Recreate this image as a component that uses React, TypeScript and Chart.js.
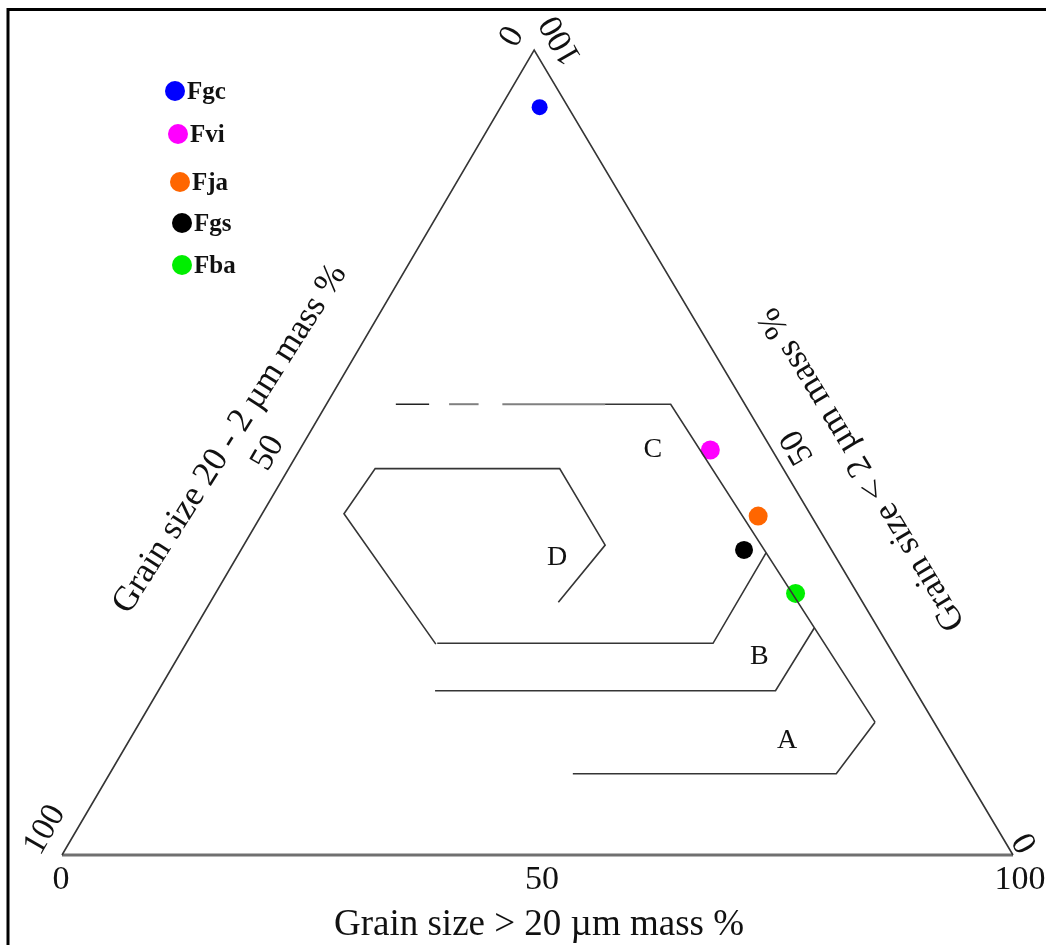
import React, { useEffect, useRef } from "react";
import { Chart, registerables } from "chart.js";
Chart.register(...registerables);

// ---------- data (ternary: sand = >20 µm, silt = 20-2 µm, clay = <2 µm) ----------
const sampleNames = ["Fgc", "Fvi", "Fja", "Fgs", "Fba"];
const sampleColors = ["#0000ff", "#ff00ff", "#ff6600", "#000000", "#00ee00"];
const sandPct = [4.1, 43.2, 52.3, 52.9, 61.0];
const siltPct = [3.0, 6.5, 5.6, 9.2, 6.5];
const clayPct = [92.9, 50.3, 42.1, 37.9, 32.5];

// boundaries as [sand, clay] pairs
const triangleSides: [number, number][] = [[0, 0], [0, 100], [100, 0]];
const triangleBase: [number, number][] = [[0, 0], [100, 0]];
const cTopDash1: [number, number][] = [[7.3, 56.0], [10.8, 56.0]];
const cTopDash2: [number, number][] = [[12.9, 56.0], [16.0, 56.0]];
const cTopGray: [number, number][] = [[18.5, 56.0], [29.3, 56.0]];
const cBoundary: [number, number][] = [[29.3, 56.0], [36.2, 56.0], [77.3, 16.5]];
const bUpper: [number, number][] = [[55.4, 37.5], [55.4, 26.3], [26.4, 26.3]];
const bLower: [number, number][] = [[65.1, 28.2], [64.9, 20.4], [29.1, 20.4]];
const aLower: [number, number][] = [[77.3, 16.5], [76.4, 10.1], [48.7, 10.1]];
const dBoundary: [number, number][] = [[26.3, 26.2], [8.6, 42.4], [9.1, 48.0], [28.5, 48.0], [38.0, 38.5], [36.6, 31.4]];

const regionLabels = ["C", "D", "B", "A"];
const regionLabelSand = [37.1, 33.7, 61.1, 69.2];
const regionLabelClay = [50.4, 37.0, 24.6, 14.2];

const bottomTickLabels = ["0", "50", "100"]; // sand %
const bottomTickSand = [0, 50, 100];
const leftTickLabels = ["100", "50", "0"]; // silt %
const leftTickSilt = [100, 50, 0];
const rightTickLabels = ["0", "50", "100"]; // clay %
const rightTickClay = [0, 50, 100];

const bottomTitle = "Grain size > 20 µm mass %";
const leftTitle = "Grain size 20 - 2 µm mass %";
const rightTitle = "Grain size < 2 µm mass %";

// ---------- layout ----------
const W = 1046;
const H = 945;
const SKEW = 0.4965;
const SERIF = '"Liberation Serif", "Times New Roman", Times, serif';
const toXY = (sand: number, clay: number) => ({ x: sand + SKEW * clay, y: clay });
const line = (pts: [number, number][]) => pts.map(([s, c]) => toXY(s, c));

const bottomTickOffsets = [[-1, 25], [4.5, 25], [7, 25]];
const leftTickOffsets = [[-17, -25], [-30, 0.5], [-22, -13]];
const rightTickOffsets = [[13, -13], [24, -5.5], [27, -10]];
const legendDotX = [175, 178, 180, 182, 182];
const legendDotY = [91, 134, 182, 223, 265];
const pointRadii = [8, 9.5, 9.5, 9, 9.5];

const DARK = "#353535";

const lineDs = (pts: [number, number][], color = DARK, width = 1.6) => ({
  data: line(pts),
  showLine: true,
  borderColor: color,
  borderWidth: width,
  pointRadius: 0,
  pointHoverRadius: 0,
  fill: false,
  tension: 0,
});

const overlay = {
  id: "overlay",
  beforeDraw(chart: any) {
    const ctx = chart.ctx;
    ctx.save();
    ctx.fillStyle = "#ffffff";
    ctx.fillRect(0, 0, chart.width, chart.height);
    ctx.restore();
  },
  afterDraw(chart: any) {
    const ctx: CanvasRenderingContext2D = chart.ctx;
    const xs = chart.scales.x;
    const ys = chart.scales.y;
    const P = (sand: number, clay: number) => {
      const p = toXY(sand, clay);
      return [xs.getPixelForValue(p.x), ys.getPixelForValue(p.y)];
    };
    const text = (t: string, x: number, y: number, font: string, angle = 0, baseline: CanvasTextBaseline = "middle") => {
      ctx.save();
      ctx.translate(x, y);
      ctx.rotate((angle * Math.PI) / 180);
      ctx.font = font;
      ctx.fillStyle = "#111";
      ctx.textAlign = "center";
      ctx.textBaseline = baseline;
      ctx.fillText(t, 0, 0);
      ctx.restore();
    };

    // frame
    ctx.save();
    ctx.strokeStyle = "#000";
    ctx.lineWidth = 3;
    ctx.strokeRect(8, 9.5, 1200, 1200);
    ctx.restore();

    const tickFont = `34px ${SERIF}`;
    bottomTickLabels.forEach((t, i) => {
      const [x, y] = P(bottomTickSand[i], 0);
      text(t, x + bottomTickOffsets[i][0], y + bottomTickOffsets[i][1], tickFont, 0);
    });
    leftTickLabels.forEach((t, i) => {
      const [x, y] = P(0, 100 - leftTickSilt[i]);
      text(t, x + leftTickOffsets[i][0], y + leftTickOffsets[i][1], tickFont, -60);
    });
    rightTickLabels.forEach((t, i) => {
      const c = rightTickClay[i];
      const [x, y] = P(100 - c, c);
      text(t, x + rightTickOffsets[i][0], y + rightTickOffsets[i][1], tickFont, -120);
    });

    text(bottomTitle, 539, 935, `37px ${SERIF}`, 0, "alphabetic");
    text(leftTitle, 230, 439, `35px ${SERIF}`, -57.5);
    text(rightTitle, 862, 469, `35px ${SERIF}`, -121);

    const regionFont = `28px ${SERIF}`;
    regionLabels.forEach((t, i) => {
      const [x, y] = P(regionLabelSand[i], regionLabelClay[i]);
      text(t, x, y, regionFont, 0);
    });

    // legend
    sampleNames.forEach((n, i) => {
      ctx.save();
      ctx.fillStyle = sampleColors[i];
      ctx.beginPath();
      ctx.arc(legendDotX[i], legendDotY[i], 10, 0, Math.PI * 2);
      ctx.fill();
      ctx.font = `bold 25px ${SERIF}`;
      ctx.fillStyle = "#111";
      ctx.textAlign = "left";
      ctx.textBaseline = "alphabetic";
      ctx.fillText(n, legendDotX[i] + 12, legendDotY[i] + 8);
      ctx.restore();
    });
  },
};

export default function App() {
  const ref = useRef<HTMLCanvasElement>(null);
  useEffect(() => {
    document.body.style.margin = "0";
    const pxX = 9.51;
    const pxY = 8.05;
    const x0 = 62;
    const y0 = 855;
    const datasets: any[] = [
      lineDs(triangleSides),
      lineDs(triangleBase, "#707070", 3),
      lineDs(cTopDash1, "#222"),
      lineDs(cTopDash2, "#808080", 2),
      lineDs(cTopGray, "#808080", 2),
      lineDs(cBoundary),
      lineDs(bUpper),
      lineDs(bLower),
      lineDs(aLower),
      lineDs(dBoundary),
      ...sampleNames.map((n, i) => ({
        label: n,
        data: [toXY(sandPct[i], clayPct[i])],
        silt: siltPct[i],
        showLine: false,
        pointRadius: pointRadii[i],
        pointHoverRadius: pointRadii[i],
        pointBackgroundColor: sampleColors[i],
        pointBorderWidth: 0,
        borderWidth: 0,
      })),
    ];
    const chart = new Chart(ref.current!, {
      type: "scatter",
      data: { datasets },
      options: {
        responsive: false,
        animation: false,
        events: [],
        layout: { padding: 0, autoPadding: false },
        plugins: { legend: { display: false }, tooltip: { enabled: false } },
        scales: {
          x: { type: "linear", display: false, min: -x0 / pxX, max: (W - x0) / pxX },
          y: { type: "linear", display: false, min: -(H - y0) / pxY, max: y0 / pxY },
        },
      },
      plugins: [overlay],
    } as any);
    return () => chart.destroy();
  }, []);
  return <canvas ref={ref} width={W} height={H} style={{ display: "block", width: W, height: H }} />;
}
